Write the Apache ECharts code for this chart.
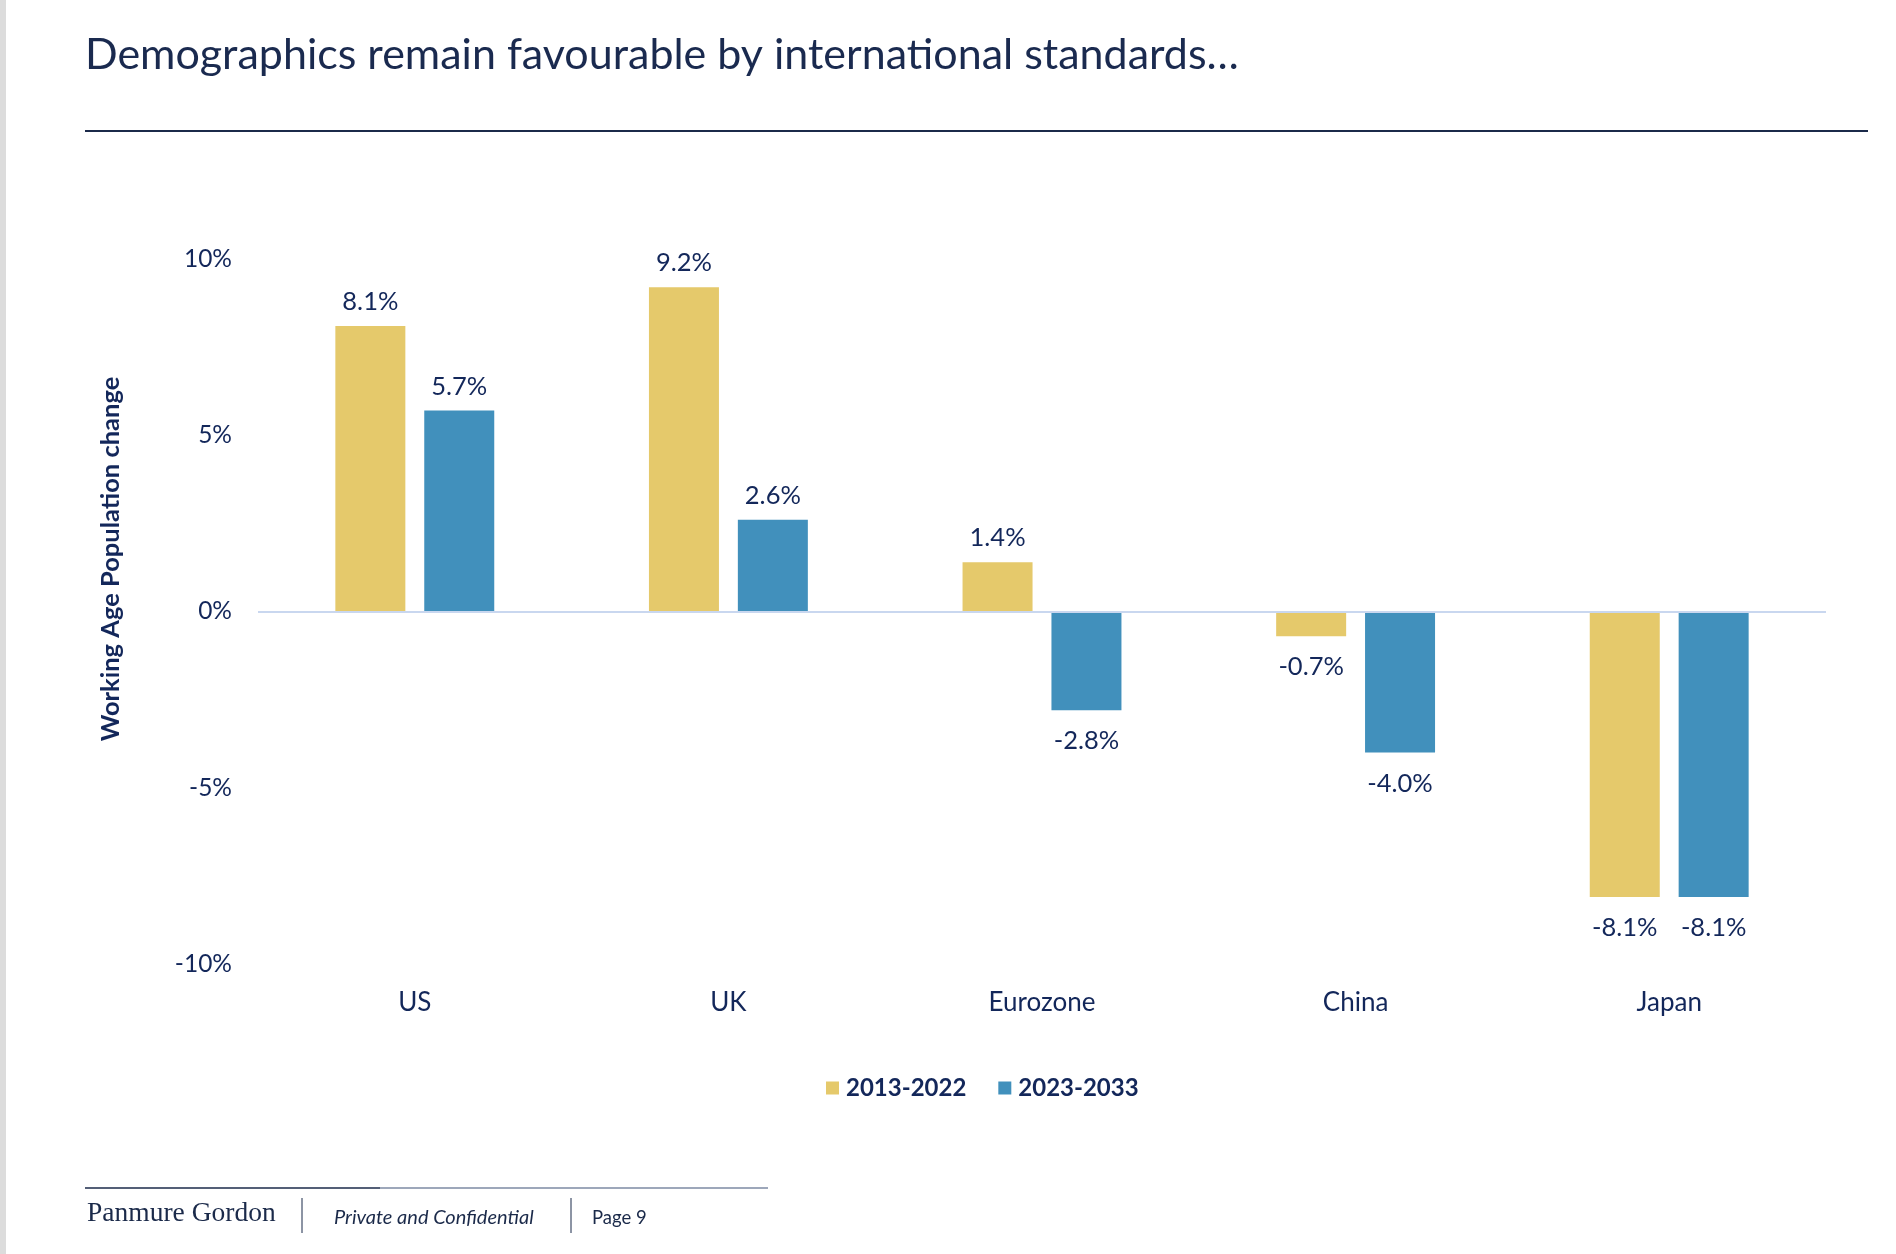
<!DOCTYPE html>
<html>
<head>
<meta charset="utf-8">
<script src="https://cdn.jsdelivr.net/npm/echarts@6/dist/echarts.min.js"></script>
<style>
html,body{margin:0;padding:0;background:#fff;}
#chart{width:1896px;height:1254px;}
</style>
</head>
<body>
<div id="chart"></div>
<script>
const categories = ['US', 'UK', 'Eurozone', 'China', 'Japan'];
const seriesNames = ['2013-2022', '2023-2033'];
const values2013_2022 = [8.1, 9.2, 1.4, -0.7, -8.1];
const values2023_2033 = [5.7, 2.6, -2.8, -4.0, -8.1];
const yTicks = { min: -10, max: 10, interval: 5 };

const NAVY = '#13275a';
const FONT = 'Lato, "Open Sans", sans-serif';
const colors = ['#E5C96B', '#4190BC'];

function toItems(arr) {
  return arr.map(v => ({
    value: v,
    label: v >= 0 ? { position: 'top', distance: 11 } : { position: 'bottom', distance: 18 }
  }));
}

const chart = echarts.init(document.getElementById('chart'));
chart.setOption({
  backgroundColor: '#ffffff',
  animation: false,
  title: {
    text: 'Demographics remain favourable by international standards\u2026',
    left: 80, top: 29,
    textStyle: { color: '#1a2a4f', fontFamily: FONT, fontWeight: 'normal', fontSize: 43 }
  },
  grid: { left: 258, right: 70, top: 259, bottom: 290, containLabel: false },
  legend: {
    data: seriesNames,
    left: 821, top: 1071,
    icon: 'rect', itemWidth: 13, itemHeight: 13, itemGap: 32,
    textStyle: { color: NAVY, fontFamily: FONT, fontWeight: 'bold', fontSize: 24, padding: [0, 0, 0, 2] }
  },
  xAxis: {
    type: 'category',
    data: categories,
    axisLine: { show: false },
    axisTick: { show: false },
    axisLabel: { color: NAVY, fontFamily: FONT, fontSize: 26, margin: 26 }
  },
  yAxis: {
    type: 'value',
    min: yTicks.min, max: yTicks.max, interval: yTicks.interval,
    axisLine: { show: false },
    axisTick: { show: false },
    splitLine: { show: false },
    axisLabel: { color: NAVY, fontFamily: FONT, fontSize: 24.5, margin: 26, formatter: '{value}%' }
  },
  graphic: [
    { type: 'rect', left: 0, top: 0, shape: { width: 6, height: 1254 }, style: { fill: '#dcdcdc' } },
    { type: 'line', shape: { x1: 85, y1: 131, x2: 1868, y2: 131 }, style: { stroke: '#1b2a4a', lineWidth: 2 } },
    { type: 'text', x: 111, y: 559, rotation: Math.PI / 2,
      style: { text: 'Working Age Population change', fill: NAVY, font: 'bold 25.5px ' + FONT, textAlign: 'center', textVerticalAlign: 'middle' } },
    { type: 'line', shape: { x1: 85, y1: 1188, x2: 380, y2: 1188 }, style: { stroke: '#1b2a4a', lineWidth: 1.5 } },
    { type: 'line', shape: { x1: 380, y1: 1188, x2: 768, y2: 1188 }, style: { stroke: '#7d8aa3', lineWidth: 1.5 } },
    { type: 'text', x: 87, y: 1214,
      style: { text: 'Panmure Gordon', fill: '#1b2a4a', font: '27.5px "Liberation Serif", "DejaVu Serif", serif', textVerticalAlign: 'middle' } },
    { type: 'line', shape: { x1: 302, y1: 1198, x2: 302, y2: 1233 }, style: { stroke: '#1b2a4a', lineWidth: 1 } },
    { type: 'text', x: 334, y: 1218,
      style: { text: 'Private and Confidential', fill: '#1b2a4a', font: 'italic 20px ' + FONT, textVerticalAlign: 'middle' } },
    { type: 'line', shape: { x1: 571, y1: 1198, x2: 571, y2: 1233 }, style: { stroke: '#1b2a4a', lineWidth: 1 } },
    { type: 'text', x: 592, y: 1218,
      style: { text: 'Page 9', fill: '#1b2a4a', font: '18.5px ' + FONT, textVerticalAlign: 'middle' } }
  ],
  series: [
    {
      name: seriesNames[0], type: 'bar', data: toItems(values2013_2022),
      barWidth: 70, barGap: '27%',
      itemStyle: { color: colors[0] },
      label: { show: true, color: NAVY, fontFamily: FONT, fontSize: 25.5, formatter: p => p.value.toFixed(1) + '%' },
      markLine: {
        silent: true, symbol: 'none', label: { show: false },
        lineStyle: { color: '#c9d7ef', width: 2, type: 'solid' },
        data: [{ yAxis: 0 }]
      }
    },
    {
      name: seriesNames[1], type: 'bar', data: toItems(values2023_2033),
      barWidth: 70, barGap: '27%',
      itemStyle: { color: colors[1] },
      label: { show: true, color: NAVY, fontFamily: FONT, fontSize: 25.5, formatter: p => p.value.toFixed(1) + '%' }
    }
  ]
});
</script>
</body>
</html>
